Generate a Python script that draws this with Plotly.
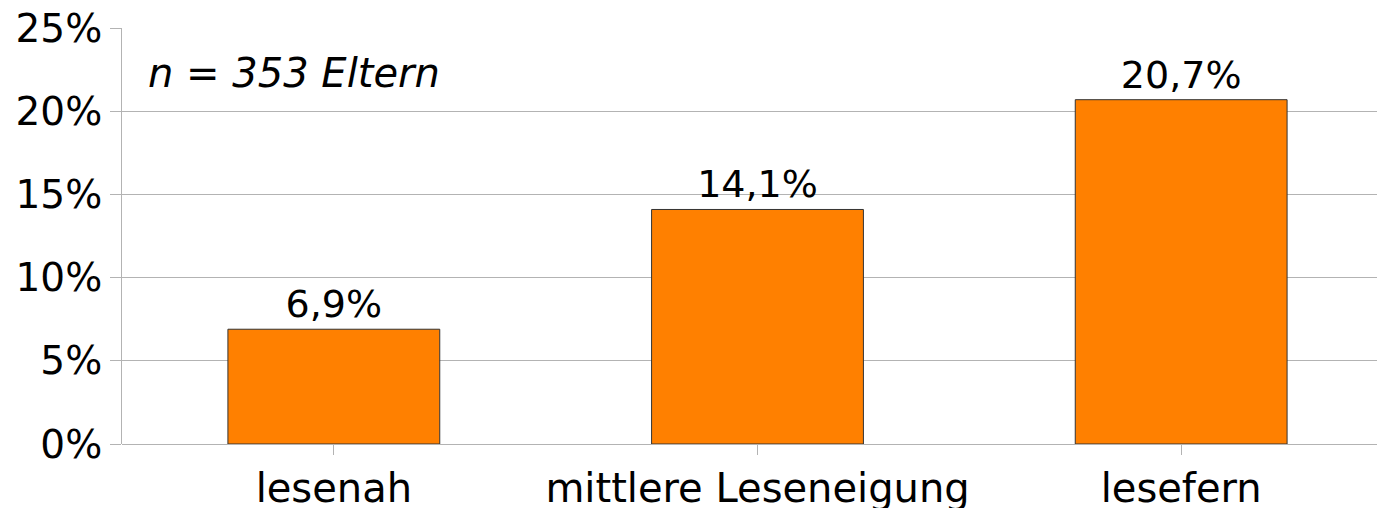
import plotly.graph_objects as go

categories = ["lesenah", "mittlere Leseneigung", "lesefern"]
values = [6.9, 14.1, 20.7]
value_labels = ["6,9%", "14,1%", "20,7%"]
y_ticks = [0, 5, 10, 15, 20, 25]
y_tick_labels = ["0%", "5%", "10%", "15%", "20%", "25%"]
note = "n = 353 Eltern"

FONT = "DejaVu Sans"
GRID = "#b3b3b3"

fig = go.Figure(go.Bar(
    x=categories, y=values, width=0.5,
    marker=dict(color="#ff8000", line=dict(color="#333333", width=1)),
    text=value_labels, textposition="outside", cliponaxis=False,
    textfont=dict(family=FONT, size=38, color="#000000"),
))

fig.update_layout(
    width=1385, height=508,
    margin=dict(l=114, r=0, t=20, b=72, autoexpand=False),
    paper_bgcolor="white", plot_bgcolor="white",
    showlegend=False,
    font=dict(family=FONT, size=38, color="#000000"),
)
fig.add_annotation(text=f"<i>{note}</i>", xref="paper", yref="paper",
                   x=24 / 1271, y=0.892,
                   xanchor="left", yanchor="middle",
                   showarrow=False, font=dict(family=FONT, size=40))

fig.update_xaxes(
    range=[-0.5, 2.5], showgrid=False, automargin=False,
    ticks="outside", ticklen=10, tickcolor=GRID, tickwidth=1,
    ticklabelstandoff=-1,
    showline=False, tickfont=dict(family=FONT, size=40),
)
fig.update_yaxes(
    range=[0, 25.01], tickvals=y_ticks, ticktext=y_tick_labels, automargin=False,
    ticklabeloverflow="allow",
    showgrid=True, gridcolor=GRID, gridwidth=1,
    ticks="outside", ticklen=11, tickcolor=GRID, tickwidth=1,
    showline=True, linecolor=GRID, linewidth=1,
    zeroline=True, zerolinecolor=GRID, zerolinewidth=1,
    tickfont=dict(family=FONT, size=39),
)

fig.write_html("out.html")
